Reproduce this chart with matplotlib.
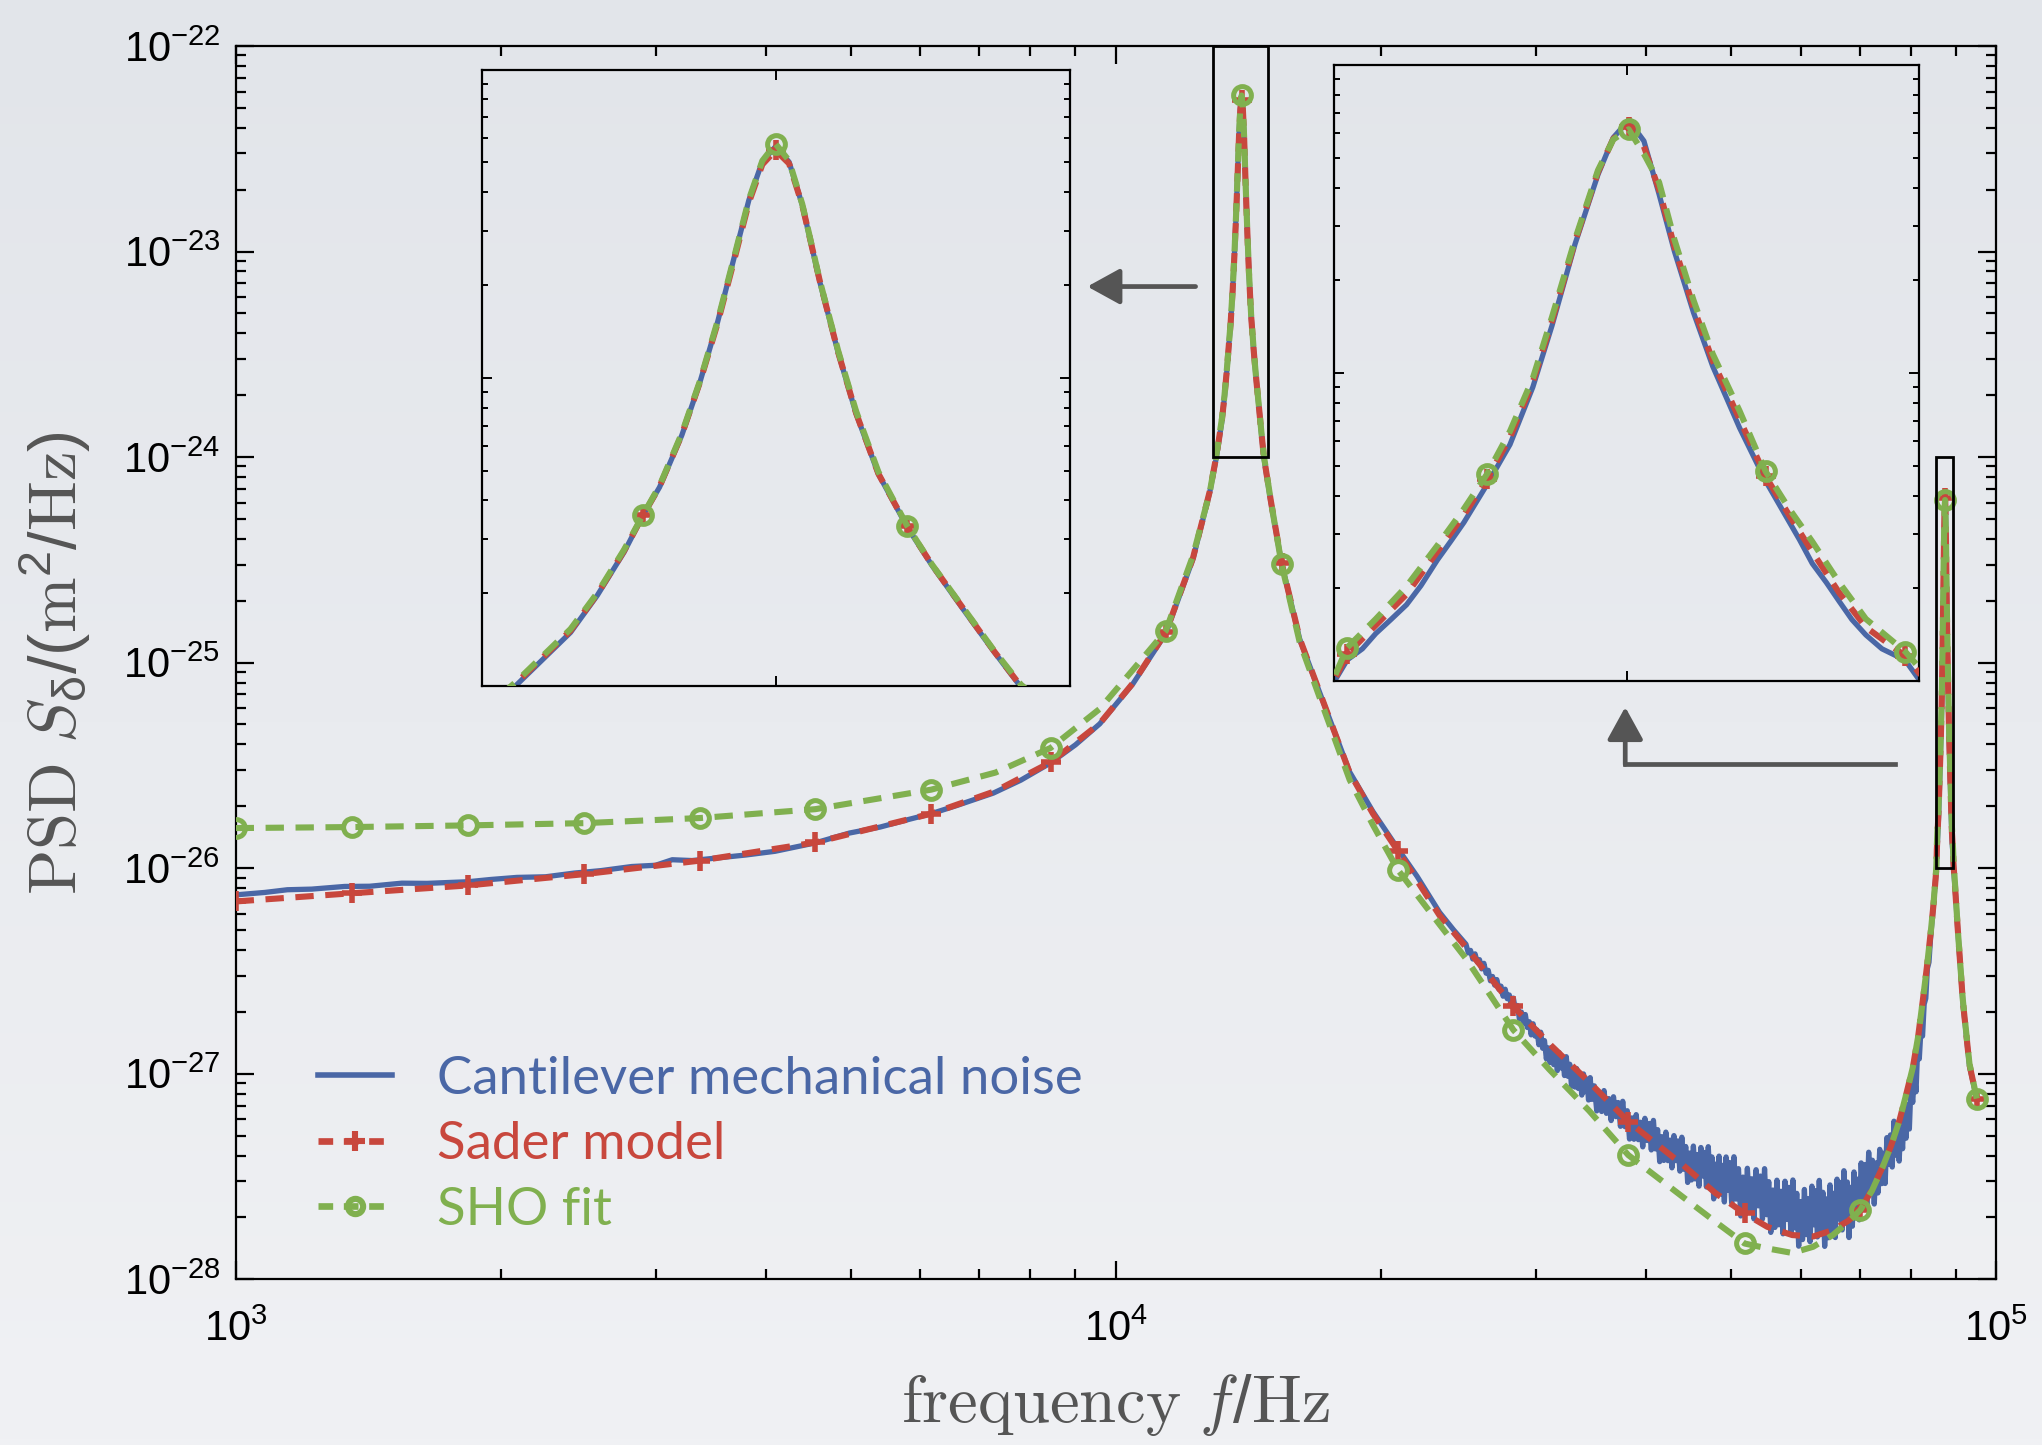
import matplotlib
matplotlib.use("Agg")
import matplotlib.pyplot as plt
import numpy as np
from matplotlib.lines import Line2D
from matplotlib.patches import Rectangle, FancyArrowPatch
from matplotlib.colors import LinearSegmentedColormap
from matplotlib.ticker import LogLocator, NullFormatter, FixedLocator

plt.rcParams['font.family'] = ['Liberation Sans', 'DejaVu Sans']
plt.rcParams['mathtext.fontset'] = 'custom'
plt.rcParams['mathtext.rm'] = 'Liberation Sans'
plt.rcParams['mathtext.it'] = 'Liberation Sans:italic'
plt.rcParams['mathtext.default'] = 'regular'

# ---- data (PSD values given as log10 of m^2/Hz) ----
model_freq_hz = [
    1000, 1357, 1837, 2491, 3374, 4557, 6171, 7300, 8433, 9590,
    10460, 11400, 12240, 12790, 13011, 13201, 13292, 13383, 13448, 13504,
    13580, 13641, 13702, 13763, 13808, 13854, 13899, 13945, 13990, 14051,
    14112, 14173, 14249, 14347, 14431, 14537, 14643, 14734, 15000, 15430,
    16180, 17050, 18440, 19600, 20920, 23330, 25000, 28300, 31100, 34500,
    38230, 44100, 48000, 51820, 55000, 58700, 62000, 65270, 68000, 70150,
    72300, 74380, 76030, 77740, 79100, 80470, 81600, 82600, 83500, 84420,
    85000, 85600, 85689, 85880, 86084, 86289, 86466, 86620, 86773, 86925,
    87053, 87206, 87359, 87461, 87563, 87665, 87766, 87868, 87996, 88123,
    88302, 88475, 88633, 88786, 88964, 89143, 89405, 89500, 90000, 90510,
    91720, 93320, 95130]

sho_fit_log10 = [
    -25.805, -25.800, -25.792, -25.781, -25.756, -25.713, -25.618, -25.535, -25.415, -25.225,
    -25.035, -24.845, -24.480, -24.170, -23.990, -23.815, -23.698, -23.558, -23.444, -23.350,
    -23.180, -23.012, -22.815, -22.590, -22.422, -22.296, -22.241, -22.296, -22.437, -22.690,
    -22.912, -23.108, -23.305, -23.480, -23.605, -23.745, -23.885, -23.995, -24.210, -24.520,
    -24.900, -25.170, -25.570, -25.790, -26.008, -26.274, -26.440, -26.787, -26.980, -27.180,
    -27.396, -27.600, -27.720, -27.826, -27.850, -27.872, -27.842, -27.785, -27.720, -27.663,
    -27.570, -27.453, -27.350, -27.225, -27.100, -26.970, -26.820, -26.645, -26.480, -26.295,
    -26.160, -25.990, -25.891, -25.798, -25.692, -25.560, -25.441, -25.328, -25.189, -25.017,
    -24.818, -24.567, -24.342, -24.242, -24.209, -24.289, -24.381, -24.567, -24.765, -24.938,
    -25.123, -25.319, -25.441, -25.547, -25.679, -25.798, -25.904, -25.957, -26.120, -26.295,
    -26.640, -26.950, -27.121]

sader_log10 = [
    -26.162, -26.122, -26.084, -26.029, -25.963, -25.875, -25.735, -25.625, -25.485, -25.296,
    -25.100, -24.853, -24.491, -24.166, -23.995, -23.820, -23.702, -23.562, -23.446, -23.353,
    -23.184, -23.016, -22.822, -22.600, -22.432, -22.308, -22.262, -22.305, -22.440, -22.692,
    -22.917, -23.114, -23.311, -23.482, -23.606, -23.747, -23.887, -24.000, -24.210, -24.513,
    -24.883, -25.144, -25.535, -25.735, -25.916, -26.230, -26.385, -26.673, -26.855, -27.040,
    -27.233, -27.444, -27.580, -27.680, -27.745, -27.785, -27.792, -27.761, -27.715, -27.663,
    -27.565, -27.453, -27.350, -27.225, -27.100, -26.970, -26.820, -26.645, -26.480, -26.295,
    -26.165, -26.000, -25.912, -25.818, -25.718, -25.580, -25.461, -25.345, -25.209, -25.030,
    -24.832, -24.574, -24.348, -24.240, -24.200, -24.265, -24.405, -24.590, -24.788, -24.960,
    -25.150, -25.335, -25.462, -25.580, -25.712, -25.825, -25.918, -25.975, -26.130, -26.295,
    -26.645, -26.955, -27.121]

noise_freq_hz = [
    1000, 1080, 1145, 1220, 1330, 1420, 1545, 1650, 1837, 1950,
    2087, 2250, 2424, 2600, 2819, 3000, 3134, 3300, 3528, 3800,
    4100, 4557, 4984, 5400, 5793, 6171, 6600, 7258, 7800, 8433,
    9000, 9590, 10460, 11400, 12240, 12790, 13011, 13201, 13292, 13383,
    13448, 13504, 13580, 13641, 13702, 13763, 13808, 13854, 13899, 13945,
    13990, 14051, 14112, 14173, 14249, 14347, 14431, 14537, 14643, 14734,
    15000, 15430, 16180, 17050, 18440, 19600, 20920, 22000, 23330, 24200,
    # noisy floor, 25 - 35 kHz
    25000, 25150, 25300, 25450, 25600, 25750, 25900, 26050, 26200, 26350,
    26500, 26650, 26800, 26950, 27100, 27250, 27400, 27550, 27700, 27850,
    28000, 28150, 28300, 28450, 28600, 28750, 28900, 29050, 29200, 29350,
    29500, 29650, 29800, 29950, 30100, 30250, 30400, 30550, 30700, 30850,
    31000, 31150, 31300, 31450, 31600, 31750, 31900, 32050, 32200, 32350,
    32500, 32650, 32800, 32950, 33100, 33250, 33400, 33550, 33700, 33850,
    34000, 34150, 34300, 34450, 34600, 34750,
    # 35 - 50 kHz
    34975, 35200, 35425, 35650, 35875, 36100, 36325, 36550, 36775, 37000,
    37225, 37450, 37675, 37900, 38125, 38350, 38575, 38800, 39025, 39250,
    39475, 39700, 39925, 40150, 40375, 40600, 40825, 41050, 41275, 41500,
    41725, 41950, 42175, 42400, 42625, 42850, 43075, 43300, 43525, 43750,
    43975, 44200, 44425, 44650, 44875, 45100, 45325, 45550, 45775, 46000,
    46225, 46450, 46675, 46900, 47125, 47350, 47575, 47800, 48025, 48250,
    48475, 48700, 48925, 49150, 49375, 49600, 49825,
    # 50 - 70 kHz
    50100, 50400, 50700, 51000, 51300, 51600, 51900, 52200, 52500, 52800,
    53100, 53400, 53700, 54000, 54300, 54600, 54900, 55200, 55500, 55800,
    56100, 56400, 56700, 57000, 57300, 57600, 57900, 58200, 58500, 58800,
    59100, 59400, 59700, 60000, 60300, 60600, 60900, 61200, 61500, 61800,
    62100, 62400, 62700, 63000, 63300, 63600, 63900, 64200, 64500, 64800,
    65100, 65400, 65700, 66000, 66300, 66600, 66900, 67200, 67500, 67800,
    68100, 68400, 68700, 69000, 69300, 69600,
    # 70 - 85 kHz
    69950, 70300, 70650, 71000, 71350, 71700, 72050, 72400, 72750, 73100,
    73450, 73800, 74150, 74500, 74850, 75200, 75550, 75900, 76250, 76600,
    76950, 77300, 77650, 78000, 78350, 78700, 79050, 79400, 79750, 80100,
    80450, 80800, 81150, 81500, 81850, 82200, 82550, 82900, 83250, 83600,
    83950, 84300, 84800,
    # second resonance
    85600, 85689, 85790, 85880, 85980, 86084, 86180, 86289, 86380, 86466,
    86620, 86773, 86925, 87053, 87206, 87359, 87461, 87563, 87665, 87766,
    87868, 87996, 88123, 88302, 88475, 88633, 88700, 88786, 88880, 88964,
    89050, 89143, 89250, 89405, 89500,
    90000, 90510, 91720, 93320, 95130]

noise_log10 = [
    -26.130, -26.118, -26.105, -26.102, -26.089, -26.088, -26.073, -26.074, -26.066, -26.055,
    -26.045, -26.042, -26.024, -26.012, -25.992, -25.986, -25.959, -25.963, -25.950, -25.936,
    -25.918, -25.877, -25.829, -25.800, -25.765, -25.735, -25.695, -25.635, -25.572, -25.488,
    -25.400, -25.298, -25.103, -24.858, -24.495, -24.170, -24.002, -23.826, -23.706, -23.566,
    -23.446, -23.355, -23.186, -23.016, -22.818, -22.592, -22.424, -22.298, -22.250, -22.300,
    -22.440, -22.694, -22.918, -23.116, -23.312, -23.484, -23.608, -23.750, -23.889, -24.003,
    -24.215, -24.515, -24.885, -25.146, -25.532, -25.725, -25.905, -26.040, -26.215, -26.300,
    # noisy floor, 25 - 35 kHz
    -26.370, -26.412, -26.400, -26.442, -26.417, -26.457, -26.445, -26.490, -26.463, -26.511,
    -26.497, -26.548, -26.527, -26.569, -26.542, -26.590, -26.574, -26.623, -26.589, -26.635,
    -26.617, -26.671, -26.632, -26.690, -26.668, -26.733, -26.700, -26.754, -26.712, -26.775,
    -26.747, -26.811, -26.757, -26.817, -26.787, -26.859, -26.798, -26.876, -26.839, -26.928,
    -26.874, -26.946, -26.871, -26.956, -26.902, -26.985, -26.897, -26.972, -26.920, -27.009,
    -26.917, -27.013, -26.954, -27.061, -26.983, -27.065, -26.975, -27.072, -27.010, -27.104,
    -27.001, -27.087, -27.026, -27.128, -27.019, -27.125,
    # 35 - 50 kHz
    -27.059, -27.181, -27.091, -27.184, -27.082, -27.193, -27.121, -27.228, -27.112, -27.209,
    -27.140, -27.256, -27.134, -27.258, -27.180, -27.318, -27.215, -27.319, -27.199, -27.321,
    -27.236, -27.356, -27.217, -27.325, -27.242, -27.371, -27.227, -27.366, -27.272, -27.428,
    -27.306, -27.422, -27.284, -27.423, -27.323, -27.458, -27.301, -27.423, -27.327, -27.474,
    -27.309, -27.465, -27.354, -27.529, -27.386, -27.517, -27.352, -27.512, -27.393, -27.547,
    -27.359, -27.498, -27.383, -27.551, -27.355, -27.535, -27.405, -27.609, -27.440, -27.593,
    -27.401, -27.585, -27.446, -27.624, -27.405, -27.567, -27.432,
    # 50 - 70 kHz
    -27.629, -27.404, -27.610, -27.462, -27.692, -27.503, -27.672, -27.460, -27.663, -27.511,
    -27.706, -27.467, -27.643, -27.498, -27.707, -27.462, -27.686, -27.525, -27.772, -27.566,
    -27.748, -27.518, -27.735, -27.572, -27.779, -27.523, -27.709, -27.553, -27.775, -27.517,
    -27.750, -27.582, -27.839, -27.622, -27.807, -27.563, -27.783, -27.608, -27.817, -27.547,
    -27.735, -27.569, -27.794, -27.519, -27.757, -27.577, -27.840, -27.609, -27.798, -27.541,
    -27.767, -27.582, -27.797, -27.513, -27.706, -27.529, -27.760, -27.472, -27.716, -27.527,
    -27.797, -27.553, -27.742, -27.478, -27.701, -27.513,
    # 70 - 85 kHz
    -27.711, -27.434, -27.611, -27.442, -27.645, -27.382, -27.588, -27.421, -27.634, -27.434,
    -27.580, -27.368, -27.535, -27.387, -27.534, -27.311, -27.440, -27.298, -27.454, -27.231,
    -27.396, -27.244, -27.425, -27.238, -27.365, -27.159, -27.314, -27.150, -27.269, -27.049,
    -27.140, -27.005, -27.088, -26.879, -26.928, -26.787, -26.817, -26.662, -26.634, -26.488,
    -26.458, -26.340, -26.215,
    # second resonance
    -26.004, -25.931, -25.895, -25.845, -25.800, -25.752, -25.690, -25.607, -25.545, -25.485,
    -25.362, -25.232, -25.046, -24.846, -24.582, -24.356, -24.236, -24.180, -24.247, -24.420,
    -24.605, -24.805, -24.978, -25.178, -25.350, -25.483, -25.540, -25.618, -25.680, -25.740,
    -25.800, -25.850, -25.895, -25.932, -25.997,
    -26.130, -26.300, -26.650, -26.960, -27.125]

main_marker_hz = [1000, 1357, 1837, 2491, 3374, 4557, 6171, 8433, 11400, 13899,
                  15430, 20920, 28300, 38230, 51820, 70150, 87563, 95130]
inset1_marker_hz = [13448, 13899, 14347]
inset2_marker_hz = [85689, 86620, 87563, 88475, 89405]

inset1_range_hz = (12900, 14900)
inset2_range_hz = (85600, 89500)

labels = ['Cantilever mechanical noise', 'Sader model', 'SHO fit']

BLUE = '#4a67a6'
RED = '#c8473d'
GREEN = '#80b04f'
GREY = '#555555'

sho_psd = 10.0 ** np.array(sho_fit_log10)
sader_psd = 10.0 ** np.array(sader_log10)
noise_psd = 10.0 ** np.array(noise_log10)


def marker_idx(freqs):
    return [model_freq_hz.index(f) for f in freqs]


fig = plt.figure(figsize=(10.21, 7.225), dpi=200)

# background gradient
bg = fig.add_axes([0, 0, 1, 1], zorder=-10)
bg_cmap = LinearSegmentedColormap.from_list('bg', ['#f0f1f4', '#e2e5ea'])
bg.imshow(np.linspace(1, 0, 256).reshape(-1, 1), aspect='auto', cmap=bg_cmap,
          extent=[0, 1, 0, 1])
bg.axis('off')

dash = (0, (3.0, 1.9))


def draw_curves(a, mk_freqs):
    idx = marker_idx(mk_freqs)
    a.plot(noise_freq_hz, noise_psd, color=BLUE, lw=1.9, zorder=2,
           solid_joinstyle='round')
    a.plot(model_freq_hz, sader_psd, color=RED, lw=2.2, ls=dash, zorder=3,
           marker='+', ms=7, mew=2.0, markevery=idx)
    a.plot(model_freq_hz, sho_psd, color=GREEN, lw=2.2, ls=dash, zorder=4,
           marker='o', mfc='none', ms=6.4, mew=1.8, markevery=idx)


# ---- main axes ----
ax = fig.add_axes([0.1154, 0.1147, 0.8620, 0.8535])
ax.set_facecolor('none')
ax.set_xscale('log')
ax.set_yscale('log')
draw_curves(ax, main_marker_hz)
ax.set_xlim(1e3, 1e5)
ax.set_ylim(1e-28, 1e-22)
ax.xaxis.set_major_locator(FixedLocator([1e3, 1e4, 1e5]))
ax.yaxis.set_major_locator(FixedLocator([1e-28, 1e-27, 1e-26, 1e-25, 1e-24, 1e-23, 1e-22]))
for a_ in (ax.xaxis, ax.yaxis):
    a_.set_minor_locator(LogLocator(base=10, subs=np.arange(2, 10), numticks=40))
    a_.set_minor_formatter(NullFormatter())
ax.tick_params(which='both', direction='in', top=True, right=True, width=0.8)
ax.tick_params(which='major', length=6.5, labelsize=15)
ax.tick_params(which='minor', length=3.6)
ax.tick_params(axis='y', pad=5.5)
ax.tick_params(axis='x', pad=11)
for s in ax.spines.values():
    s.set_linewidth(0.8)

# zoom boxes
ax.add_patch(Rectangle((inset1_range_hz[0], 1e-24), inset1_range_hz[1] - inset1_range_hz[0],
                       1e-22 - 1e-24, fill=False, ec='black', lw=1.0, zorder=5))
ax.add_patch(Rectangle((inset2_range_hz[0], 1e-26), inset2_range_hz[1] - inset2_range_hz[0],
                       1e-24 - 1e-26, fill=False, ec='black', lw=1.0, zorder=5))

# legend
h_noise = Line2D([], [], color=BLUE, lw=2.0)
h_sader = Line2D([], [], color=RED, lw=2.4, ls=(0, (2.2, 1.6)), marker='+', ms=7, mew=2.2)
h_sho = Line2D([], [], color=GREEN, lw=2.4, ls=(0, (2.2, 1.6)), marker='o', mfc='none',
               ms=5.5, mew=2.2)
leg = ax.legend([h_noise, h_sader, h_sho], labels, loc='lower left',
                bbox_to_anchor=(0.047, 0.037), frameon=False, borderpad=0,
                borderaxespad=0, handlelength=1.4, handletextpad=0.85,
                labelspacing=0.35,
                prop={'family': 'Lato', 'size': 19})
for t, c in zip(leg.get_texts(), [BLUE, RED, GREEN]):
    t.set_color(c)


# ---- insets ----
def setup_inset(rect, xr, yr, center_tick, mk_freqs):
    a = fig.add_axes(rect)
    a.set_facecolor('none')
    a.set_yscale('log')
    draw_curves(a, mk_freqs)
    a.set_xlim(*xr)
    a.set_ylim(*yr)
    a.xaxis.set_major_locator(FixedLocator([center_tick]))
    a.yaxis.set_major_locator(LogLocator(base=10, numticks=10))
    a.yaxis.set_minor_locator(LogLocator(base=10, subs=np.arange(2, 10), numticks=20))
    a.tick_params(which='both', direction='in', top=True, right=True, width=0.7,
                  labelleft=False, labelbottom=False)
    a.tick_params(which='major', length=3.5)
    a.tick_params(which='minor', length=2.0)
    for s in a.spines.values():
        s.set_linewidth(0.8)
    return a


ax1 = setup_inset([0.2361, 0.5252, 0.2877, 0.4267], inset1_range_hz, (1e-24, 1e-22),
                  13900, inset1_marker_hz)
ax2 = setup_inset([0.6532, 0.5286, 0.2868, 0.4265], inset2_range_hz, (1e-26, 1e-24),
                  87550, inset2_marker_hz)

# arrows
arrow_style = '-|>,head_length=1.0,head_width=0.55'
fig.add_artist(FancyArrowPatch((0.5855, 0.8017), (0.5325, 0.8017),
                               transform=fig.transFigure, arrowstyle=arrow_style,
                               mutation_scale=10, color=GREY, lw=1.7,
                               shrinkA=0, shrinkB=0))
fig.add_artist(Line2D([0.9279, 0.7959], [0.4710, 0.4710], transform=fig.transFigure,
                      color=GREY, lw=1.7, solid_capstyle='projecting'))
fig.add_artist(FancyArrowPatch((0.7959, 0.4710), (0.7959, 0.5107),
                               transform=fig.transFigure, arrowstyle=arrow_style,
                               mutation_scale=10, color=GREY, lw=1.7,
                               shrinkA=0, shrinkB=0))

# axis labels (LaTeX-like serif)
fig.text(0.027, 0.541, r'$\mathrm{PSD}\ \mathit{S}_{\delta}/(\mathrm{m}^2/\mathrm{Hz})$',
         rotation=90, ha='center', va='center', fontsize=24, color=GREY,
         math_fontfamily='cm')
fig.text(0.5464, 0.028, r'$\mathrm{frequency}\ \mathit{f}/\mathrm{Hz}$',
         ha='center', va='center', fontsize=24, color=GREY, math_fontfamily='cm')

fig.savefig('out.png', dpi=200)
